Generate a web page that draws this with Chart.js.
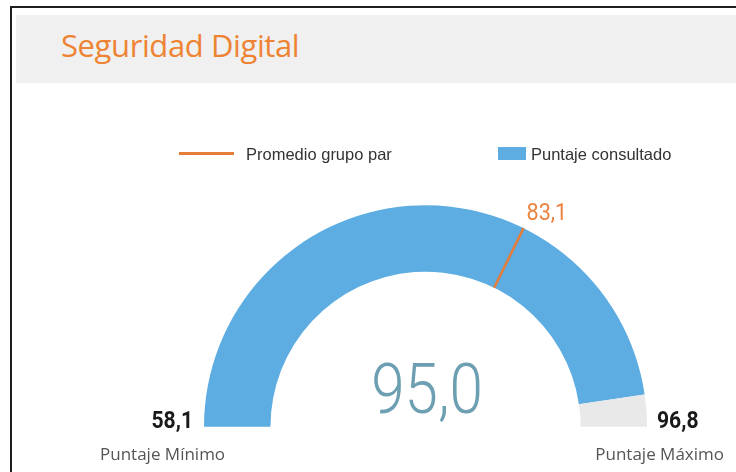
<!DOCTYPE html>
<html>
<head>
<meta charset="utf-8">
<script src="https://cdn.jsdelivr.net/npm/chart.js@4/dist/chart.umd.min.js"></script>
<style>
  body { margin: 0; background: #fff; width: 736px; height: 472px; overflow: hidden; position: relative; }
  #marco { position: absolute; left: 10px; top: 6px; width: 800px; height: 520px; border: 2px solid #1e1e1e; }
  #cabecera { position: absolute; left: 16px; top: 15px; right: 0; height: 68px; background: #f0f0f0; }
  #titulo { position: absolute; left: 61px; top: 24px; font-family: "Open Sans", sans-serif; font-size: 31px; color: #ee8433; letter-spacing: -0.4px; }
  #toile { position: absolute; left: 0; top: 0; }
</style>
</head>
<body>
<div id="marco"></div>
<div id="cabecera"></div>
<div id="titulo">Seguridad Digital</div>
<canvas id="toile" width="736" height="472"></canvas>
<script>
const leyendas = ['Promedio grupo par', 'Puntaje consultado']
const puntajeMinimo = 58.1
const puntajeMaximo = 96.8
const puntajeConsultado = 95.0
const promedioGrupo = 83.1
const etiquetasExtremos = ['Puntaje Mínimo', 'Puntaje Máximo']

const azul = '#5dade2'
const gris = '#e9e9e9'
const naranja = '#e57c38'

const fmt = (v) => v.toFixed(1).replace('.', ',')

// texto estrechado horizontalmente
function textoAngosto(ctx, txt, x, y, sx, align) {
  ctx.save()
  ctx.translate(x, y)
  ctx.scale(sx, 1)
  ctx.textAlign = align
  ctx.fillText(txt, 0, 0)
  ctx.restore()
}

// textos y marcador del promedio dibujados sobre el arco
const extras = {
  id: 'extras',
  afterDraw(chart) {
    const ctx = chart.ctx
    const arc = chart.getDatasetMeta(0).data[0]
    const cx = arc.x, cy = arc.y, r0 = arc.innerRadius, r1 = arc.outerRadius

    // linea del promedio del grupo par
    const frac = (promedioGrupo - puntajeMinimo) / (puntajeMaximo - puntajeMinimo)
    const ang = Math.PI + frac * Math.PI
    const ex = cx + r1 * Math.cos(ang), ey = cy + r1 * Math.sin(ang)
    ctx.save()
    ctx.strokeStyle = naranja
    ctx.lineWidth = 2.5
    ctx.beginPath()
    ctx.moveTo(cx + r0 * Math.cos(ang), cy + r0 * Math.sin(ang))
    ctx.lineTo(ex, ey)
    ctx.stroke()

    ctx.fillStyle = '#ea8440'
    ctx.font = '23px Roboto'
    ctx.textBaseline = 'alphabetic'
    textoAngosto(ctx, fmt(promedioGrupo), ex + 3, ey - 8, 0.94, 'left')

    // valor central
    ctx.fillStyle = '#6c9fb2'
    ctx.font = '300 70px Roboto'
    textoAngosto(ctx, fmt(puntajeConsultado), cx + 1.5, cy - 14, 0.86, 'center')

    // extremos
    ctx.fillStyle = '#1a1a1a'
    ctx.font = 'bold 24px Roboto'
    textoAngosto(ctx, fmt(puntajeMinimo), cx - r1 - 11, cy + 1, 0.88, 'right')
    textoAngosto(ctx, fmt(puntajeMaximo), cx + r1 + 10, cy + 1, 0.88, 'left')

    ctx.fillStyle = '#555'
    ctx.font = '17px "Open Sans"'
    ctx.textAlign = 'left'
    ctx.fillText(etiquetasExtremos[0], 100, cy + 33)
    ctx.textAlign = 'right'
    ctx.fillText(etiquetasExtremos[1], 724, cy + 33)

    // leyenda
    ctx.strokeStyle = naranja
    ctx.lineWidth = 3
    ctx.beginPath()
    ctx.moveTo(179, 153.5)
    ctx.lineTo(234, 153.5)
    ctx.stroke()
    ctx.fillStyle = azul
    ctx.fillRect(498, 147, 28, 13)
    ctx.fillStyle = '#333'
    ctx.font = '16.5px "Liberation Sans"'
    ctx.textAlign = 'left'
    ctx.fillText(leyendas[0], 246, 159.5)
    ctx.fillText(leyendas[1], 531, 159.5)
    ctx.restore()
  }
}

new Chart(document.getElementById('toile'), {
  type: 'doughnut',
  data: {
    labels: ['Puntaje consultado', ''],
    datasets: [{
      data: [puntajeConsultado - puntajeMinimo, puntajeMaximo - puntajeConsultado],
      backgroundColor: [azul, gris],
      borderWidth: 0,
      hoverOffset: 0
    }]
  },
  options: {
    responsive: false,
    animation: false,
    rotation: -90,
    circumference: 180,
    cutout: '70%',
    layout: { padding: { left: 204, right: 89, top: 205, bottom: 45 } },
    plugins: { legend: { display: false }, tooltip: { enabled: false } }
  },
  plugins: [extras]
})
</script>
</body>
</html>
